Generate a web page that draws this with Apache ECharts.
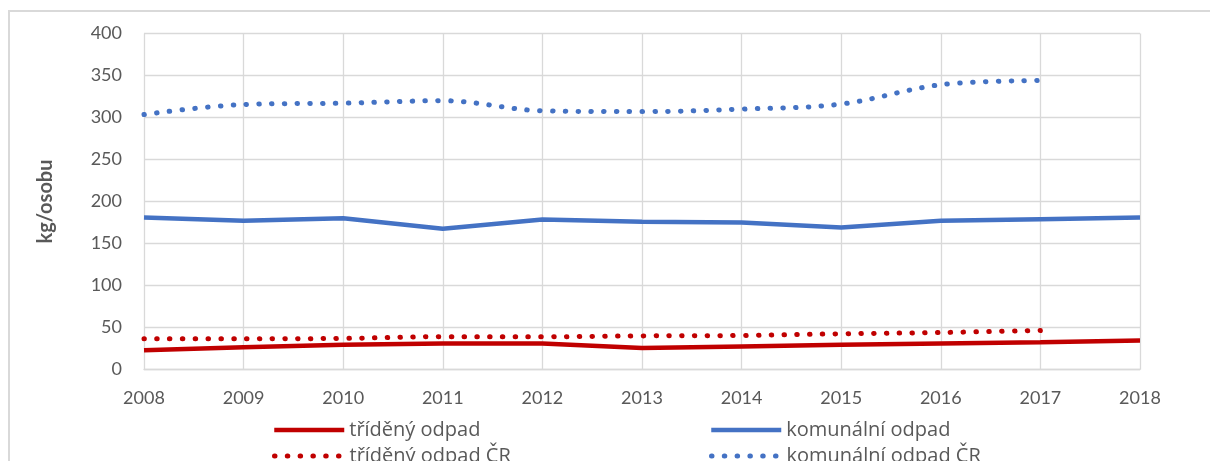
<!DOCTYPE html>
<html>
<head>
<meta charset="utf-8">
<script src="https://cdn.jsdelivr.net/npm/echarts@6/dist/echarts.min.js"></script>
<style>
  html, body { margin: 0; padding: 0; background: #fff; }
  #chart { width: 1210px; height: 461px; }
</style>
</head>
<body>
<div id="chart"></div>
<script>
// Roky na ose x
const years = ['2008', '2009', '2010', '2011', '2012', '2013', '2014', '2015', '2016', '2017', '2018'];

// Hodnoty v kg na osobu
const tridenyOdpad = [23, 26.5, 29.5, 31, 31, 25.5, 27.5, 29.5, 31, 32.5, 34.5];
const komunalniOdpad = [181, 177, 180, 167.5, 178.5, 176, 175, 169, 177, 179, 181];
const tridenyOdpadCR = [36.5, 36.5, 37, 39, 39, 40, 40.5, 42.5, 44, 46.5, null];
const komunalniOdpadCR = [303.5, 315.5, 317, 320, 308, 307, 310, 316, 339, 344, null];

const RED = '#C00000';
const BLUE = '#4472C4';
const TEXT = '#595959';
const GRID = '#d9d9d9';
const FONT = 'Lato, "Open Sans", sans-serif';
const LEGEND_FONT = '"Open Sans", Lato, sans-serif';
const DOTS = [0.5, 12.3];

// Jedna položka legendy na pozici (dva sloupce, dva řádky)
function legendItem(name, left, top, gap, lineWidth) {
  return {
    left: left, top: top, orient: 'horizontal',
    itemWidth: 70, itemHeight: 14, itemTextGap: gap,
    itemStyle: { opacity: 0 },
    lineStyle: { width: lineWidth },
    textStyle: { color: TEXT, fontSize: 20, fontFamily: LEGEND_FONT },
    data: [name]
  };
}

const chart = echarts.init(document.getElementById('chart'), null, { renderer: 'canvas' });

chart.setOption({
  animation: false,
  backgroundColor: '#fff',
  graphic: [{
    type: 'rect',
    silent: true,
    z: -10,
    shape: { x: 9, y: 11, width: 1400, height: 700 },
    style: { fill: 'none', stroke: GRID, lineWidth: 2 }
  }],
  grid: { left: 144, right: 70, top: 33.5, bottom: 91.5, containLabel: false },
  xAxis: {
    type: 'category',
    data: years,
    boundaryGap: false,
    axisLine: { show: true, lineStyle: { color: GRID, width: 1.3 } },
    axisTick: { show: false },
    splitLine: { show: true, lineStyle: { color: GRID, width: 1.3 } },
    axisLabel: { color: TEXT, fontSize: 18, fontFamily: FONT, margin: 20 }
  },
  yAxis: {
    type: 'value',
    min: 0,
    max: 400,
    interval: 50,
    name: 'kg/osobu',
    nameLocation: 'middle',
    nameGap: 88,
    nameRotate: 90,
    nameTextStyle: { color: TEXT, fontSize: 20, fontWeight: 'bold', fontFamily: FONT },
    axisLine: { show: false },
    axisTick: { show: false },
    splitLine: { show: true, lineStyle: { color: GRID, width: 1.3 } },
    axisLabel: { color: TEXT, fontSize: 18, fontFamily: FONT, margin: 22 }
  },
  legend: [
    legendItem('tříděný odpad', 267, 415, 5, 4.5),
    legendItem('tříděný odpad ČR', 267, 441, 5, 5),
    legendItem('komunální odpad', 704, 415, 8, 4.5),
    legendItem('komunální odpad ČR', 704, 441, 8, 5)
  ],
  series: [
    {
      name: 'tříděný odpad', type: 'line', data: tridenyOdpad,
      symbol: 'none', color: RED,
      lineStyle: { color: RED, width: 4.5 }
    },
    {
      name: 'komunální odpad', type: 'line', data: komunalniOdpad,
      symbol: 'none', color: BLUE,
      lineStyle: { color: BLUE, width: 4.5 }
    },
    {
      name: 'tříděný odpad ČR', type: 'line', data: tridenyOdpadCR,
      symbol: 'none', color: RED, smooth: 0.35,
      lineStyle: { color: RED, width: 5, type: DOTS, cap: 'round' }
    },
    {
      name: 'komunální odpad ČR', type: 'line', data: komunalniOdpadCR,
      symbol: 'none', color: BLUE, smooth: 0.35,
      lineStyle: { color: BLUE, width: 5, type: DOTS, cap: 'round' }
    }
  ]
});
</script>
</body>
</html>
